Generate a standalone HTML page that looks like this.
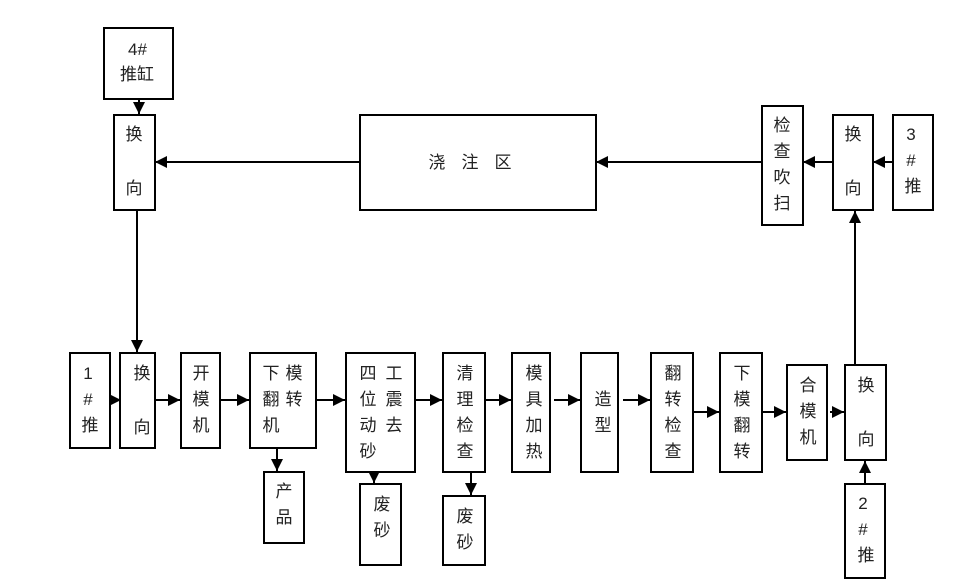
<!DOCTYPE html>
<html><head><meta charset="utf-8"><style>
html,body{margin:0;padding:0;background:#fff;}
svg{display:block;font-family:"Liberation Sans","Noto Sans CJK SC",sans-serif;}
text{font-size:17px;fill:#222;text-anchor:middle;}
rect{fill:#fff;stroke:#000;stroke-width:2;}
line{stroke:#000;stroke-width:2;}
</style></head><body>
<svg width="957" height="586" viewBox="0 0 957 586">
<defs>
<marker id="b" viewBox="0 0 10 10" refX="10" refY="5" markerWidth="12" markerHeight="12" orient="auto" markerUnits="userSpaceOnUse"><path d="M0,0L10,5L0,10z" fill="#000"/></marker></defs>

<line x1="139" y1="99" x2="139" y2="114" marker-end="url(#b)"/>
<line x1="360" y1="162" x2="155" y2="162" marker-end="url(#b)"/>
<line x1="762" y1="162" x2="596" y2="162" marker-end="url(#b)"/>
<line x1="833" y1="162" x2="803" y2="162" marker-end="url(#b)"/>
<line x1="893" y1="162" x2="873" y2="162" marker-end="url(#b)"/>
<line x1="137" y1="210" x2="137" y2="352" marker-end="url(#b)"/>
<line x1="855" y1="365" x2="855" y2="211" marker-end="url(#b)"/>
<line x1="865" y1="484" x2="865" y2="461" marker-end="url(#b)"/>
<line x1="110" y1="400" x2="121" y2="400" marker-end="url(#b)"/>
<line x1="152" y1="400" x2="180" y2="400" marker-end="url(#b)"/>
<line x1="220" y1="400" x2="249" y2="400" marker-end="url(#b)"/>
<line x1="316" y1="400" x2="345" y2="400" marker-end="url(#b)"/>
<line x1="415" y1="400" x2="442" y2="400" marker-end="url(#b)"/>
<line x1="485" y1="400" x2="511" y2="400" marker-end="url(#b)"/>
<line x1="554" y1="400" x2="580" y2="400" marker-end="url(#b)"/>
<line x1="623" y1="400" x2="650" y2="400" marker-end="url(#b)"/>
<line x1="693" y1="412" x2="719" y2="412" marker-end="url(#b)"/>
<line x1="762" y1="412" x2="786" y2="412" marker-end="url(#b)"/>
<line x1="830" y1="412" x2="844" y2="412" marker-end="url(#b)"/>
<line x1="277" y1="448" x2="277" y2="471" marker-end="url(#b)"/>
<line x1="374" y1="472" x2="374" y2="483" marker-end="url(#b)"/>
<line x1="471" y1="472" x2="471" y2="495" marker-end="url(#b)"/>

<rect x="104" y="28" width="69" height="71"/>
<text x="128" y="55" style="text-anchor:start">4#</text>
<text x="137" y="80">推缸</text>
<rect x="114" y="115" width="41" height="95"/>
<text x="134" y="140">换</text><text x="134" y="194">向</text>
<rect x="360" y="115" width="236" height="95"/>
<text x="478" y="168" style="letter-spacing:16px">浇注区</text>
<rect x="762" y="106" width="41" height="119"/>
<text x="782" y="131">检</text><text x="782" y="157">查</text><text x="782" y="183">吹</text><text x="782" y="209">扫</text>
<rect x="833" y="115" width="40" height="95"/>
<text x="853" y="140">换</text><text x="853" y="194">向</text>
<rect x="893" y="115" width="40" height="95"/>
<text x="911" y="140">3</text><text x="911" y="166">#</text><text x="913" y="192">推</text>

<rect x="70" y="353" width="40" height="95"/>
<text x="88" y="379">1</text><text x="88" y="405">#</text><text x="90" y="431">推</text>
<rect x="120" y="353" width="35" height="95"/>
<text x="142" y="379">换</text><text x="142" y="433">向</text>
<rect x="181" y="353" width="39" height="95"/>
<text x="201" y="379">开</text><text x="201" y="405">模</text><text x="201" y="431">机</text>
<rect x="250" y="353" width="66" height="95"/>
<text x="271" y="379">下</text><text x="294" y="379">模</text>
<text x="271" y="405">翻</text><text x="294" y="405">转</text>
<text x="271" y="431">机</text>
<rect x="346" y="353" width="69" height="119"/>
<text x="368" y="379">四</text><text x="394" y="379">工</text>
<text x="368" y="405">位</text><text x="394" y="405">震</text>
<text x="368" y="431">动</text><text x="394" y="431">去</text>
<text x="368" y="457">砂</text>
<rect x="443" y="353" width="42" height="119"/>
<text x="465" y="379">清</text><text x="465" y="405">理</text><text x="465" y="431">检</text><text x="465" y="457">查</text>
<rect x="264" y="472" width="40" height="71"/>
<text x="284" y="497">产</text><text x="284" y="523">品</text>
<rect x="360" y="484" width="41" height="81"/>
<text x="382" y="510">废</text><text x="382" y="536">砂</text>
<rect x="443" y="496" width="42" height="69"/>
<text x="465" y="522">废</text><text x="465" y="548">砂</text>
<rect x="512" y="353" width="38" height="119"/>
<text x="534" y="379">模</text><text x="534" y="405">具</text><text x="534" y="431">加</text><text x="534" y="457">热</text>
<rect x="581" y="353" width="37" height="119"/>
<text x="603" y="405">造</text><text x="603" y="431">型</text>
<rect x="651" y="353" width="42" height="119"/>
<text x="673" y="379">翻</text><text x="673" y="405">转</text><text x="673" y="431">检</text><text x="673" y="457">查</text>
<rect x="720" y="353" width="42" height="119"/>
<text x="742" y="379">下</text><text x="742" y="405">模</text><text x="742" y="431">翻</text><text x="742" y="457">转</text>
<rect x="787" y="365" width="40" height="95"/>
<text x="808" y="391">合</text><text x="808" y="417">模</text><text x="808" y="443">机</text>
<rect x="845" y="365" width="41" height="95"/>
<text x="866" y="391">换</text><text x="866" y="445">向</text>
<rect x="845" y="484" width="40" height="94"/>
<text x="863" y="509">2</text><text x="863" y="535">#</text><text x="866" y="561">推</text>
</svg>
</body></html>
